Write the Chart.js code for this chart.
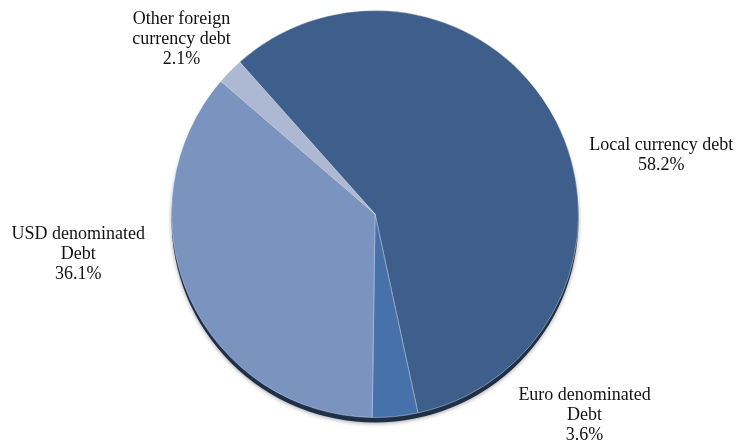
<!DOCTYPE html>
<html>
<head>
<meta charset="utf-8">
<script src="https://cdn.jsdelivr.net/npm/chart.js@4.4.1/dist/chart.umd.min.js"></script>
<style>
  html, body { margin: 0; padding: 0; background: #fff; }
  #wrap { width: 736px; height: 444px; position: relative; }
</style>
</head>
<body>
<div id="wrap"><canvas id="grafico"></canvas></div>
<script>
// Datos del gráfico
var categorias = ['Local currency debt', 'Euro denominated Debt', 'USD denominated Debt', 'Other foreign currency debt'];
var etiquetas = [['Local currency debt'], ['Euro denominated', 'Debt'], ['USD denominated', 'Debt'], ['Other foreign', 'currency debt']];
var valores = [58.2, 3.6, 36.1, 2.1];
var colores = ['#3e5f8c', '#4771aa', '#7a94bf', '#adb9d3'];

// Posición de cada etiqueta respecto al centro, en fracciones del radio
var posEtiquetas = [[1.407, -0.29], [1.03, 0.99], [-1.458, 0.196], [-0.951, -0.858]];

// Sombra bajo el pastel (efecto 3D del original)
var sombraPlugin = {
  id: 'sombra',
  beforeDatasetsDraw: function (chart) {
    var arc = chart.getDatasetMeta(0).data[0];
    if (!arc) return;
    var ctx = chart.ctx;
    ctx.save();
    ctx.beginPath();
    ctx.arc(arc.x, arc.y + 5, arc.outerRadius, 0, Math.PI * 2);
    ctx.fillStyle = '#1f2f48';
    ctx.shadowColor = 'rgba(0,0,0,0.35)';
    ctx.shadowBlur = 4;
    ctx.shadowOffsetY = 1;
    ctx.fill();
    ctx.restore();
  }
};

// Etiquetas con nombre y porcentaje
var etiquetasPlugin = {
  id: 'etiquetas',
  afterDatasetsDraw: function (chart) {
    var meta = chart.getDatasetMeta(0);
    var ctx = chart.ctx;
    ctx.save();
    ctx.font = '18px "Liberation Serif", serif';
    ctx.fillStyle = '#111';
    ctx.textAlign = 'center';
    ctx.textBaseline = 'middle';
    meta.data.forEach(function (arc, i) {
      var r = arc.outerRadius;
      var cx = arc.x + posEtiquetas[i][0] * r;
      var cy = arc.y + posEtiquetas[i][1] * r;
      var lineas = etiquetas[i].concat([valores[i].toFixed(1) + '%']);
      var alto = 20;
      var y0 = cy - (lineas.length - 1) * alto / 2;
      lineas.forEach(function (t, k) {
        ctx.fillText(t, cx, y0 + k * alto);
      });
    });
    ctx.restore();
  }
};

var ctx = document.getElementById('grafico').getContext('2d');
new Chart(ctx, {
  type: 'pie',
  data: {
    labels: categorias,
    datasets: [{
      data: valores,
      backgroundColor: colores,
      borderColor: 'rgba(255,255,255,0.35)',
      borderWidth: 1
    }]
  },
  options: {
    responsive: true,
    maintainAspectRatio: false,
    animation: false,
    rotation: -41.7,
    layout: { padding: { top: 10, bottom: 26, left: 100, right: 86 } },
    plugins: {
      legend: { display: false },
      tooltip: { enabled: false }
    }
  },
  plugins: [sombraPlugin, etiquetasPlugin]
});
</script>
</body>
</html>
